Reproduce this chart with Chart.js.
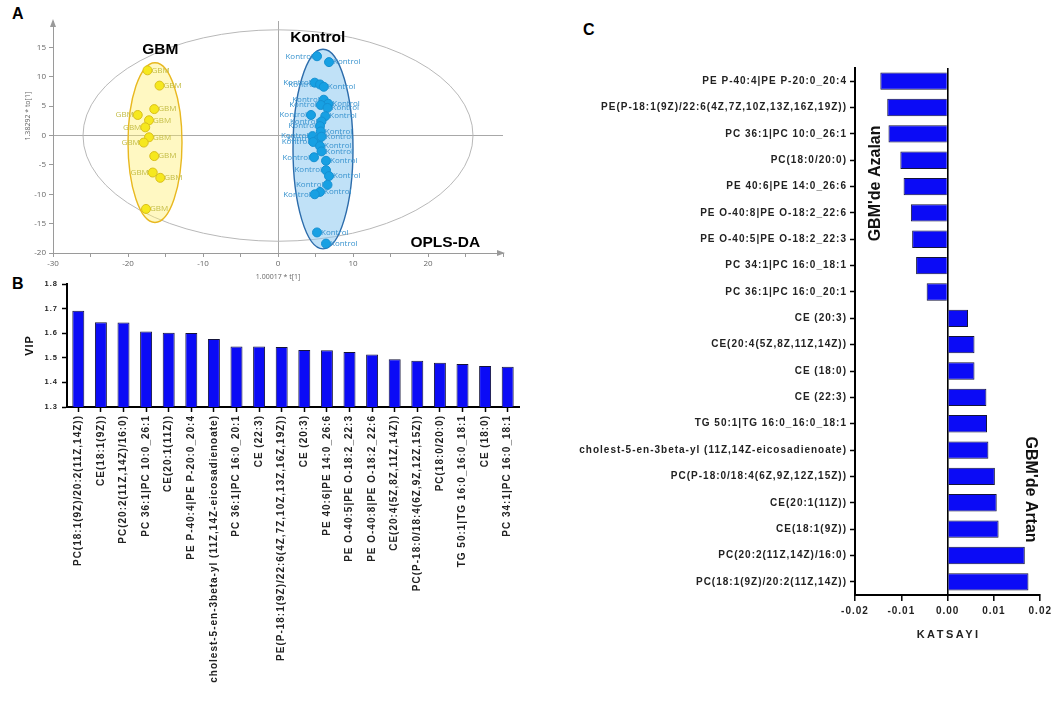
<!DOCTYPE html>
<html>
<head>
<meta charset="utf-8">
<title>OPLS-DA / VIP / Katsayı</title>
<script src="https://cdn.jsdelivr.net/npm/chart.js@4"></script>
<style>
  html, body { margin: 0; padding: 0; background: #fff; }
  body { width: 1056px; height: 704px; position: relative; overflow: hidden; }
  canvas { position: absolute; }
  #chartA { left: 0; top: 0; }
  #chartB { left: 0; top: 275px; }
  #chartC { left: 540px; top: 40px; }
  .tag { position: absolute; font: bold 16px "Liberation Sans", Arial, sans-serif; line-height: 16px; color: #000; }
</style>
</head>
<body>
<div class="tag" style="left:12px;top:6px">A</div>
<div class="tag" style="left:12px;top:276px">B</div>
<div class="tag" style="left:583px;top:22px">C</div>
<canvas id="chartA" width="520" height="290"></canvas>
<canvas id="chartB" width="525" height="429"></canvas>
<canvas id="chartC" width="516" height="660"></canvas>
<script>
// ---- A: OPLS-DA skor grafiği ----
const gbmX = [-17.4, -15.8, -16.5, -18.7, -17.2, -17.7, -17.2, -17.9, -16.5, -16.7, -15.7, -17.6];
const gbmY = [11.1, 8.5, 4.5, 3.5, 2.6, 1.4, -0.3, -1.2, -3.5, -6.3, -7.2, -12.5];
const gbmSide = ['R', 'R', 'R', 'L', 'R', 'L', 'R', 'L', 'R', 'L', 'R', 'R'];

const kontrolX = [5.2, 6.8, 4.9, 5.6, 6.1, 6.1, 6.7, 5.7, 6.6, 4.4, 6.3, 5.8, 5.6, 5.7, 4.6,
                  5.4, 5.8, 4.7, 5.6, 5.8, 4.8, 6.4, 6.4, 6.8, 6.6, 5.6, 4.9, 5.2, 6.4];
const kontrolY = [13.5, 12.5, 9.0, 8.7, 8.3, 6.1, 5.4, 5.2, 4.7, 3.5, 3.3, 2.4, 1.6, 0.7, -0.1,
                  -0.6, -0.2, -1.1, -1.8, -2.7, -3.7, -4.3, -5.9, -6.9, -8.4, -9.6, -10.0, -16.5, -18.4];
const kontrolSide = ['L', 'R', 'L', 'L', 'R', 'L', 'R', 'L', 'R', 'L', 'R', 'L', 'L', 'R', 'L',
                     'L', 'R', 'L', 'R', 'R', 'L', 'R', 'L', 'R', 'L', 'R', 'L', 'R', 'R'];

// elipsler: [merkez x, merkez y, yarıçap x, yarıçap y]
const hotelling = [0, 0, 26, 18];
const gbmEllipse = [-16.4, -1.2, 3.6, 13.6];
const kontrolEllipse = [6, -2.3, 4, 17];

const groupTitles = ['GBM', 'Kontrol', 'OPLS-DA'];
const groupTitleX = [-15.7, 5.3, 22.3];
const groupTitleY = [14.6, 16.7, -18.25];
const yTitleA = '1.38292 * to[1]';

// ---- B: VIP skorları ----
const vipLabels = [
  'PC(18:1(9Z)/20:2(11Z,14Z))', 'CE(18:1(9Z))', 'PC(20:2(11Z,14Z)/16:0)', 'PC 36:1|PC 10:0_26:1',
  'CE(20:1(11Z))', 'PE P-40:4|PE P-20:0_20:4', 'cholest-5-en-3beta-yl (11Z,14Z-eicosadienoate)',
  'PC 36:1|PC 16:0_20:1', 'CE (22:3)', 'PE(P-18:1(9Z)/22:6(4Z,7Z,10Z,13Z,16Z,19Z))', 'CE (20:3)',
  'PE 40:6|PE 14:0_26:6', 'PE O-40:5|PE O-18:2_22:3', 'PE O-40:8|PE O-18:2_22:6',
  'CE(20:4(5Z,8Z,11Z,14Z))', 'PC(P-18:0/18:4(6Z,9Z,12Z,15Z))', 'PC(18:0/20:0)',
  'TG 50:1|TG 16:0_16:0_18:1', 'CE (18:0)', 'PC 34:1|PC 16:0_18:1'
];
const vipValues = [1.691, 1.645, 1.643, 1.607, 1.602, 1.601, 1.576, 1.546, 1.546, 1.544,
                   1.532, 1.531, 1.524, 1.513, 1.494, 1.488, 1.480, 1.475, 1.467, 1.464];

// ---- C: katsayılar ----
const coefLabels = [
  'PE P-40:4|PE P-20:0_20:4', 'PE(P-18:1(9Z)/22:6(4Z,7Z,10Z,13Z,16Z,19Z))', 'PC 36:1|PC 10:0_26:1',
  'PC(18:0/20:0)', 'PE 40:6|PE 14:0_26:6', 'PE O-40:8|PE O-18:2_22:6', 'PE O-40:5|PE O-18:2_22:3',
  'PC 34:1|PC 16:0_18:1', 'PC 36:1|PC 16:0_20:1', 'CE (20:3)', 'CE(20:4(5Z,8Z,11Z,14Z))',
  'CE (18:0)', 'CE (22:3)', 'TG 50:1|TG 16:0_16:0_18:1',
  'cholest-5-en-3beta-yl (11Z,14Z-eicosadienoate)', 'PC(P-18:0/18:4(6Z,9Z,12Z,15Z))',
  'CE(20:1(11Z))', 'CE(18:1(9Z))', 'PC(20:2(11Z,14Z)/16:0)', 'PC(18:1(9Z)/20:2(11Z,14Z))'
];
const coefValues = [-0.01453, -0.01304, -0.01277, -0.01021, -0.00951, -0.00794, -0.00766, -0.00681,
                    -0.00453, 0.0044, 0.0058, 0.0058, 0.00837, 0.0085, 0.0088, 0.0102, 0.0106,
                    0.0110, 0.01666, 0.01745];
const sideNotes = ["GBM'de Azalan", "GBM'de Artan"];
const sideNoteX = [-0.01553, 0.01777];
const sideNoteY = [3.88, 15.5];

Chart.defaults.font.family = '"Liberation Sans", Arial, sans-serif';
Chart.defaults.animation = false;
Chart.defaults.responsive = false;
Chart.defaults.devicePixelRatio = 1;
Chart.defaults.plugins.legend.display = false;
Chart.defaults.plugins.tooltip.enabled = false;

const isZero = v => Math.abs(v) < 1e-9;

// harf aralığı (canvas letterSpacing)
const spacing = {
  id: 'spacing',
  beforeLayout(chart, args, opts) { chart.ctx.letterSpacing = (opts.px || 0) + 'px'; },
  beforeDraw(chart, args, opts) { chart.ctx.letterSpacing = (opts.px || 0) + 'px'; }
};

// elipsler ve nokta etiketleri
const scoreDecor = {
  id: 'scoreDecor',
  beforeDatasetsDraw(chart) {
    const { ctx, scales: { x, y } } = chart;
    const ellipse = (e, fill, stroke, lw) => {
      const cx = x.getPixelForValue(e[0]), cy = y.getPixelForValue(e[1]);
      const rx = Math.abs(x.getPixelForValue(e[0] + e[2]) - cx);
      const ry = Math.abs(y.getPixelForValue(e[1] + e[3]) - cy);
      ctx.beginPath();
      ctx.ellipse(cx, cy, rx, ry, 0, 0, Math.PI * 2);
      if (fill) { ctx.fillStyle = fill; ctx.fill(); }
      ctx.lineWidth = lw;
      ctx.strokeStyle = stroke;
      ctx.stroke();
    };
    ctx.save();
    ellipse(hotelling, null, '#b8b8b8', 1);
    ellipse(gbmEllipse, 'rgba(255,238,110,0.42)', '#e8b820', 1.4);
    ellipse(kontrolEllipse, 'rgba(140,200,240,0.55)', '#2c6cab', 1.4);

    ctx.font = '8px "Open Sans", sans-serif';
    ctx.textBaseline = 'middle';
    chart.data.datasets.forEach((ds, i) => {
      ctx.fillStyle = ds.labelColor;
      chart.getDatasetMeta(i).data.forEach((pt, j) => {
        const left = ds.sides[j] === 'L';
        ctx.textAlign = left ? 'right' : 'left';
        ctx.fillText(ds.label, pt.x + (left ? -4 : 4), pt.y);
      });
    });
    ctx.restore();
  },
  afterDraw(chart) {
    const { ctx, scales: { x, y } } = chart;
    ctx.save();
    // eksen okları
    ctx.fillStyle = '#9a9a9a';
    const xr = x.right, yb = y.bottom, xl = x.left, yt = y.top;
    ctx.beginPath();
    ctx.moveTo(xr + 2, yb); ctx.lineTo(xr - 6, yb - 3); ctx.lineTo(xr - 6, yb + 3); ctx.closePath(); ctx.fill();
    ctx.beginPath();
    ctx.moveTo(xl, yt - 2); ctx.lineTo(xl - 3, yt + 6); ctx.lineTo(xl + 3, yt + 6); ctx.closePath(); ctx.fill();
    // dikey eksen başlığı
    ctx.fillStyle = '#666';
    ctx.font = '7px "Open Sans", sans-serif';
    ctx.textAlign = 'center';
    ctx.textBaseline = 'middle';
    ctx.save();
    ctx.translate(y.left + 28, y.getPixelForValue(3.3));
    ctx.rotate(-Math.PI / 2);
    ctx.fillText(yTitleA, 0, 0);
    ctx.restore();
    // grup başlıkları
    ctx.fillStyle = '#000';
    ctx.font = 'bold 15.5px "Liberation Sans", Arial, sans-serif';
    groupTitles.forEach((t, i) => {
      ctx.fillText(t, x.getPixelForValue(groupTitleX[i]), y.getPixelForValue(groupTitleY[i]));
    });
    ctx.restore();
  }
};

const greyTick = { color: '#666', font: { size: 8, family: '"Open Sans", sans-serif' } };

new Chart(document.getElementById('chartA'), {
  type: 'scatter',
  data: {
    datasets: [
      {
        label: 'GBM', labelColor: '#c4bd45', sides: gbmSide,
        data: gbmX.map((v, i) => ({ x: v, y: gbmY[i] })),
        pointRadius: 4.5, backgroundColor: '#f6e81e', borderColor: '#d9bf1c', borderWidth: 1
      },
      {
        label: 'Kontrol', labelColor: '#3a94cf', sides: kontrolSide,
        data: kontrolX.map((v, i) => ({ x: v, y: kontrolY[i] })),
        pointRadius: 4.5, backgroundColor: '#17a0e3', borderColor: '#1590d2', borderWidth: 1
      }
    ]
  },
  options: {
    layout: { padding: { top: 21, right: 17 } },
    scales: {
      x: {
        min: -30, max: 30,
        afterFit: s => { s.height = 37; },
        ticks: { ...greyTick, stepSize: 5, autoSkip: false, includeBounds: false, padding: 2,
                 callback: v => (v % 10 === 0 && v < 30) ? String(v) : '' },
        grid: { color: c => c.tick && isZero(c.tick.value) ? '#a8a8a8' : 'rgba(0,0,0,0)',
                tickColor: '#9a9a9a', tickLength: 4 },
        border: { color: '#9a9a9a' },
        title: { display: true, text: '1.00017 * t[1]', color: '#666',
                 font: { size: 7, family: '"Open Sans", sans-serif' }, padding: { top: 0, bottom: 9 } }
      },
      y: {
        min: -20, max: 19.5,
        afterFit: s => { s.width = 53; },
        ticks: { ...greyTick, stepSize: 5, autoSkip: false, includeBounds: false, padding: 3 },
        grid: { color: c => c.tick && isZero(c.tick.value) ? '#a8a8a8' : 'rgba(0,0,0,0)',
                tickColor: '#9a9a9a', tickLength: 4 },
        border: { color: '#9a9a9a' }
      }
    }
  },
  plugins: [scoreDecor]
});

const barBlue = '#0b0bf6';
const axisFont = { size: 10, weight: 'bold' };

new Chart(document.getElementById('chartB'), {
  type: 'bar',
  data: {
    labels: vipLabels,
    datasets: [{ data: vipValues, backgroundColor: barBlue, borderColor: '#14143a', borderWidth: 1,
                 barPercentage: 0.53, categoryPercentage: 1 }]
  },
  options: {
    layout: { padding: { top: 9, right: 6 } },
    plugins: { spacing: { px: 1 } },
    scales: {
      x: {
        afterFit: s => { s.height = 297; },
        grid: { offset: false, drawOnChartArea: false, tickLength: 5, tickColor: '#000', tickWidth: 1.5 },
        border: { color: '#000', width: 2 },
        ticks: { autoSkip: false, minRotation: 90, maxRotation: 90, padding: 3, color: '#222', font: axisFont }
      },
      y: {
        min: 1.3, max: 1.8,
        afterFit: s => { s.width = 67; },
        ticks: { stepSize: 0.1, padding: 4, color: '#222', font: { size: 7.5, weight: 'bold' },
                 callback: v => Number(v).toFixed(1) },
        grid: { drawOnChartArea: false, tickLength: 5, tickColor: '#000', tickWidth: 1.5 },
        border: { color: '#000', width: 2 },
        title: { display: true, text: 'VIP', color: '#111', font: { size: 11, weight: 'bold' },
                 padding: { top: 23, bottom: 0 } }
      }
    }
  },
  plugins: [spacing]
});

// yan notlar ve eksen başlığı
const coefDecor = {
  id: 'coefDecor',
  afterDraw(chart) {
    const { ctx, scales: { x, y } } = chart;
    ctx.save();
    ctx.letterSpacing = '0px';
    ctx.fillStyle = '#111';
    ctx.font = 'bold 16px "Liberation Sans", Arial, sans-serif';
    ctx.textAlign = 'center';
    ctx.textBaseline = 'middle';
    sideNotes.forEach((t, i) => {
      ctx.save();
      ctx.translate(x.getPixelForValue(sideNoteX[i]), y.getPixelForValue(sideNoteY[i]));
      ctx.rotate(i === 0 ? -Math.PI / 2 : Math.PI / 2);
      ctx.fillText(t, 0, 0);
      ctx.restore();
    });
    ctx.letterSpacing = '2.5px';
    ctx.font = 'bold 11px "Liberation Sans", Arial, sans-serif';
    ctx.fillStyle = '#222';
    ctx.fillText('KATSAYI', (x.left + x.right) / 2 + 1, chart.chartArea.bottom + 40);
    ctx.restore();
  }
};

new Chart(document.getElementById('chartC'), {
  type: 'bar',
  data: {
    labels: coefLabels,
    datasets: [{ data: coefValues, backgroundColor: barBlue, borderColor: '#14143a', borderWidth: 1,
                 barPercentage: 0.66, categoryPercentage: 1 }]
  },
  options: {
    indexAxis: 'y',
    layout: { padding: { top: 28, right: 13 } },
    plugins: { spacing: { px: 1 } },
    scales: {
      x: {
        min: -0.02, max: 0.02,
        afterFit: s => { s.height = 105; },
        ticks: { stepSize: 0.01, padding: 4, color: '#222', font: axisFont,
                 callback: v => isZero(v) ? '0.00' : Number(v).toFixed(2) },
        grid: { color: c => c.tick && isZero(c.tick.value) ? '#000' : 'rgba(0,0,0,0)', lineWidth: 1.6,
                tickColor: '#000', tickLength: 6, tickWidth: 1.5 },
        border: { color: '#000', width: 2 }
      },
      y: {
        afterFit: s => { s.width = 315; },
        ticks: { autoSkip: false, padding: 3, color: '#222', font: axisFont },
        grid: { offset: false, drawOnChartArea: false, tickLength: 5, tickColor: '#000', tickWidth: 1.5 },
        border: { color: '#000', width: 2 }
      }
    }
  },
  plugins: [spacing, coefDecor]
});
</script>
</body>
</html>
